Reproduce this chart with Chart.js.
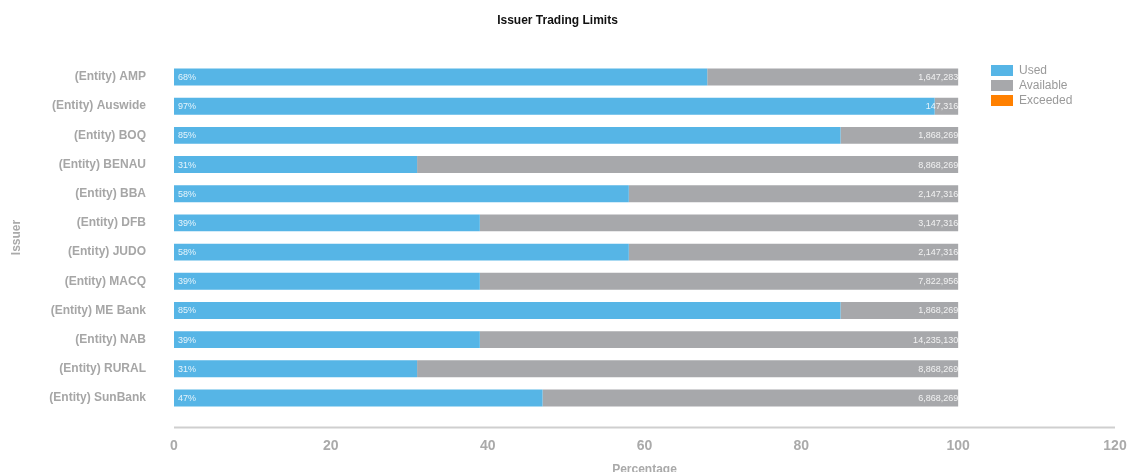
<!DOCTYPE html>
<html>
<head>
<meta charset="utf-8">
<title>Issuer Trading Limits</title>
<script src="https://cdn.jsdelivr.net/npm/chart.js@4/dist/chart.umd.min.js"></script>
<style>
  html, body { margin: 0; padding: 0; background: #fff; }
  #wrap { position: relative; width: 1129px; height: 472px; }
  #legend { position: absolute; left: 991px; top: 64px; font: 12px "Liberation Sans", Arial, sans-serif; color: #9a9a9a; }
  #legend div { height: 15px; line-height: 13px; white-space: nowrap; }
  #legend span { display: inline-block; width: 22px; height: 11px; vertical-align: top; margin: 1px 6px 0 0; }
</style>
</head>
<body>
<div id="wrap">
  <canvas id="chart" width="1129" height="472"></canvas>
  <div id="legend"></div>
</div>
<script>
const issuers = ["(Entity) AMP", "(Entity) Auswide", "(Entity) BOQ", "(Entity) BENAU", "(Entity) BBA",
  "(Entity) DFB", "(Entity) JUDO", "(Entity) MACQ", "(Entity) ME Bank", "(Entity) NAB",
  "(Entity) RURAL", "(Entity) SunBank"];
const usedPct = [68, 97, 85, 31, 58, 39, 58, 39, 85, 39, 31, 47];
const availablePct = [32, 3, 15, 69, 42, 61, 42, 61, 15, 61, 69, 53];
const exceededPct = [0, 0, 0, 0, 0, 0, 0, 0, 0, 0, 0, 0];
const availableAmount = [1647283, 147316, 1868269, 8868269, 2147316, 3147316, 2147316,
  7822956, 1868269, 14235130, 8868269, 6868269];

const grey = "#a6a6a6";
const font = "'Liberation Sans', Arial, sans-serif";

// texts inside the bars + the x axis line sitting a bit below the plot
const barText = {
  id: "barText",
  afterDatasetsDraw(chart) {
    const ctx = chart.ctx;
    const used = chart.getDatasetMeta(0).data;
    const avail = chart.getDatasetMeta(1).data;
    ctx.save();
    ctx.font = "9px " + font;
    ctx.fillStyle = "rgba(255,255,255,0.85)";
    ctx.textBaseline = "middle";
    used.forEach((bar, i) => {
      ctx.textAlign = "left";
      ctx.fillText(usedPct[i] + "%", bar.base + 4, bar.y + 0.5);
      ctx.textAlign = "right";
      ctx.fillText(availableAmount[i].toLocaleString("en-US"), avail[i].x, bar.y + 0.5);
    });
    const x = chart.scales.x;
    ctx.strokeStyle = "#cfcfcf";
    ctx.lineWidth = 2;
    ctx.beginPath();
    ctx.moveTo(x.left, chart.chartArea.bottom + 15);
    ctx.lineTo(x.right, chart.chartArea.bottom + 15);
    ctx.stroke();
    ctx.restore();
  }
};

const chart = new Chart(document.getElementById("chart"), {
  type: "bar",
  data: {
    labels: issuers,
    datasets: [
      { label: "Used", data: usedPct, backgroundColor: "#56b5e6" },
      { label: "Available", data: availablePct, backgroundColor: "#a7a8ab" },
      { label: "Exceeded", data: exceededPct, backgroundColor: "#ff8000" }
    ]
  },
  options: {
    indexAxis: "y",
    responsive: false,
    animation: false,
    layout: { padding: { right: 14 } },
    datasets: { bar: { barPercentage: 0.58, categoryPercentage: 1, borderWidth: 0 } },
    plugins: {
      legend: { display: false },
      tooltip: { enabled: false },
      title: {
        display: true,
        text: "Issuer Trading Limits",
        color: "#111",
        font: { family: font, size: 12, weight: "bold" },
        padding: { top: 13, bottom: 35 }
      }
    },
    scales: {
      x: {
        stacked: true,
        min: 0,
        max: 120,
        ticks: { stepSize: 20, color: "#aaa", padding: 25, font: { family: font, size: 14, weight: "bold" } },
        grid: { display: false, drawTicks: false },
        border: { display: false },
        title: { display: true, text: "Percentage", color: "#aaa", font: { family: font, size: 12, weight: "bold" }, padding: { top: 0, bottom: -5 } },
        afterFit(s) {
          s.height = 59.4;
          s.paddingLeft = 0;
          s.paddingRight = 0;
        }
      },
      y: {
        stacked: true,
        ticks: { color: grey, padding: 28, font: { family: font, size: 12, weight: "bold" } },
        grid: { display: false, drawTicks: false },
        border: { display: false },
        title: { display: true, text: "Issuer", color: "#aaa", font: { family: font, size: 12, weight: "bold" }, padding: { top: 9, bottom: 0 } },
        afterFit(s) { s.width = 174; }
      }
    }
  },
  plugins: [barText]
});

document.getElementById("legend").innerHTML = chart.data.datasets
  .map(d => '<div><span style="background:' + d.backgroundColor + '"></span>' + d.label + '</div>')
  .join("");
</script>
</body>
</html>
